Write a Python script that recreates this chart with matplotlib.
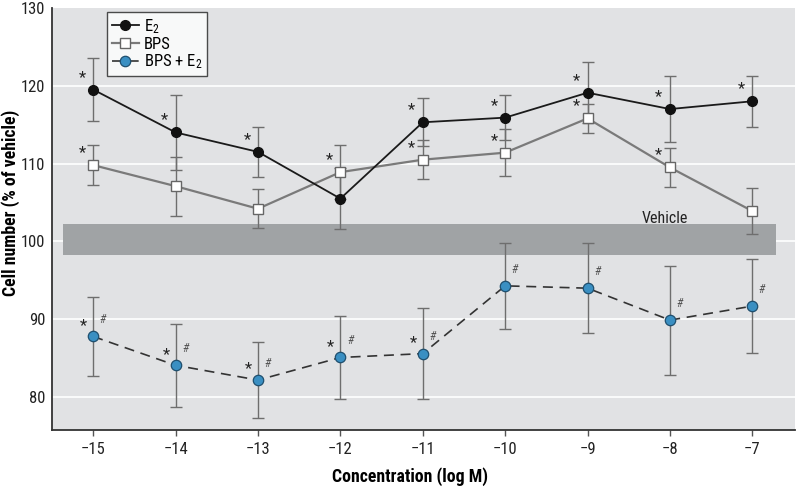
import numpy as np
import matplotlib.pyplot as plt

plt.rcParams["font.family"] = ["Roboto Condensed", "Liberation Sans Narrow", "Roboto", "DejaVu Sans"]
plt.rcParams["mathtext.fontset"] = "custom"
plt.rcParams["mathtext.rm"] = "Roboto Condensed"
plt.rcParams["mathtext.it"] = "Roboto Condensed"

# concentrations (log M)
conc = [-15, -14, -13, -12, -11, -10, -9, -8, -7]

e2_mean = [119.5, 114.0, 111.5, 105.5, 115.3, 115.9, 119.1, 117.0, 118.0]
e2_err = [4.0, 4.8, 3.2, 3.9, 3.1, 2.9, 3.9, 4.2, 3.3]
e2_star = [True, True, True, False, True, True, True, True, True]

bps_mean = [109.8, 107.1, 104.2, 108.9, 110.5, 111.4, 115.8, 109.5, 103.9]
bps_err = [2.6, 3.8, 2.5, 3.5, 2.5, 3.0, 1.9, 2.5, 2.9]
bps_star = [True, False, False, True, True, True, True, True, False]

mix_mean = [87.8, 84.1, 82.2, 85.1, 85.6, 94.3, 94.0, 89.9, 91.7]
mix_err = [5.1, 5.3, 4.9, 5.3, 5.8, 5.5, 5.8, 7.0, 6.0]
mix_star = [True, True, True, True, True, False, False, False, False]
mix_hash = [True] * 9

vehicle_lo, vehicle_hi = 98.2, 102.2

BG = "#e1e2e4"
ERR = "#6e6e6e"

fig = plt.figure(figsize=(8, 4.88), dpi=100)
ax = fig.add_axes([0.065, 0.119, 0.929, 0.865])
ax.set_facecolor(BG)

for v in [80, 90, 100, 110, 120]:
    ax.axhline(v, color="white", lw=1.2, zorder=0)

ax.fill_between([-15.37, -6.71], vehicle_lo, vehicle_hi, color="#a0a3a5", lw=0, zorder=1)
ax.text(-8.06, 103.0, "Vehicle", fontsize=11.5, color="#222222", ha="center", va="center", zorder=2)

ekw = dict(ecolor=ERR, elinewidth=1.0, capsize=4, capthick=1.0, zorder=3)
ax.errorbar(conc, e2_mean, yerr=e2_err, fmt="none", **ekw)
ax.errorbar(conc, bps_mean, yerr=bps_err, fmt="none", **ekw)
ax.errorbar(conc, mix_mean, yerr=mix_err, fmt="none", **ekw)

l1, = ax.plot(conc, e2_mean, color="#1a1a1a", lw=1.3, marker="o", ms=7,
              mfc="#111111", mec="#111111", zorder=5, label="E$_2$")
l2, = ax.plot(conc, bps_mean, color="#7a7a7a", lw=1.6, marker="s", ms=7,
              mfc="white", mec="#666666", mew=1.0, zorder=4, label="BPS")
l3, = ax.plot(conc, mix_mean, color="#333333", lw=1.2, ls=(0, (6, 4)), marker="o", ms=7.5,
              mfc="#3a8fc2", mec="#1f4f6e", mew=0.9, zorder=4, label="BPS + E$_2$")

star_kw = dict(textcoords="offset points", fontsize=12, color="#222222",
               ha="center", va="center", zorder=6)
for x, y, s in zip(conc, e2_mean, e2_star):
    if s:
        ax.annotate("*", (x, y), xytext=(-8, 9), **star_kw)
for x, y, s in zip(conc, bps_mean, bps_star):
    if s:
        ax.annotate("*", (x, y), xytext=(-8, 9), **star_kw)
for x, y, s, h in zip(conc, mix_mean, mix_star, mix_hash):
    if s:
        ax.annotate("*", (x, y), xytext=(-7, 8), **star_kw)
    if h:
        ax.annotate("#", (x, y), xytext=(7, 12), textcoords="offset points",
                    fontsize=8.5, color="#555555", style="italic",
                    ha="center", va="center", zorder=6)

ax.set_xlim(-15.5, -6.48)
ax.set_ylim(75.8, 130)
ax.set_xticks(conc)
ax.set_xticklabels([f"\u2212{abs(c)}" for c in conc])
ax.set_yticks([80, 90, 100, 110, 120, 130])
ax.tick_params(labelsize=12, colors="#222222")
ax.tick_params(axis="x", length=4, width=1.0, color="#555555", pad=5)
ax.tick_params(axis="y", length=0, pad=5)

for sp in ["top", "right"]:
    ax.spines[sp].set_visible(False)
for sp in ["left", "bottom"]:
    ax.spines[sp].set_color("#333333")
    ax.spines[sp].set_linewidth(1.3)

# axis titles placed like the reference
fig.text(0.5125, 0.0225, "Concentration (log M)", fontsize=12.8, fontweight="bold",
         ha="center", va="center")
fig.text(0.0135, 0.584, "Cell number (% of vehicle)", fontsize=12.8, fontweight="bold",
         rotation=90, ha="center", va="center")

leg = ax.legend(handles=[l1, l2, l3], loc="upper left", bbox_to_anchor=(0.074, 0.99),
                fontsize=12, frameon=True, fancybox=False, edgecolor="#222222",
                handlelength=1.6, handletextpad=0.3, labelspacing=0.05,
                borderpad=0.3, borderaxespad=0)
leg.get_frame().set_linewidth(1.0)

fig.savefig("out.png", dpi=100, facecolor="white")
